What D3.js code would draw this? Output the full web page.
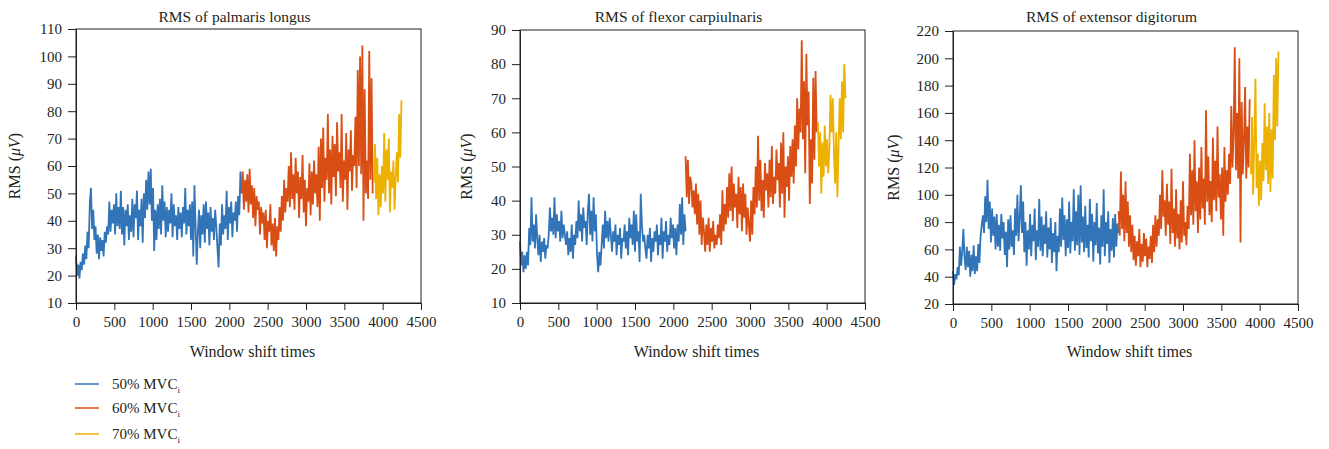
<!DOCTYPE html>
<html><head><meta charset="utf-8">
<script src="https://cdn.jsdelivr.net/npm/d3@7"></script>
<style>
body{margin:0;background:#fff;}
text{font-family:"Liberation Serif","Times New Roman",serif;fill:#231f20;}
</style></head>
<body><svg id="chart" width="1329" height="449"></svg>
<script>
// ---------- data ----------
const titles = ["RMS of palmaris longus", "RMS of flexor carpiulnaris", "RMS of extensor digitorum"];
const seriesNames = ["50% MVC", "60% MVC", "70% MVC"];
const seriesColors = ["#3274B8", "#D94E15", "#EDB100"];
const seriesStart = [0, 2160, 3885];   // window shift index of first sample
const sampleStep = 15;                 // window shifts between samples
const xTicks = [0, 500, 1000, 1500, 2000, 2500, 3000, 3500, 4000, 4500];
const yTicks1 = [10, 20, 30, 40, 50, 60, 70, 80, 90, 100, 110];
const yTicks2 = [10, 20, 30, 40, 50, 60, 70, 80, 90];
const yTicks3 = [20, 40, 60, 80, 100, 120, 140, 160, 180, 200, 220];

const p1Blue = [27,20,24,19,25,22,28,24,31,26,
36,30,46,52,37,44,33,38,28,35,
26,34,29,33,27,36,32,38,35,47,
36,44,39,46,35,50,38,45,37,51,
35,45,31,44,38,46,33,42,36,48,
34,46,41,51,33,44,38,48,32,50,
41,55,44,58,46,59,40,52,29,44,
33,46,37,48,35,53,40,47,34,45,
36,44,39,50,34,46,38,42,33,45,
37,43,34,45,39,52,35,44,38,46,
33,47,27,53,38,24,36,44,30,42,
35,46,32,47,37,43,31,45,36,41,
33,44,38,30,23,39,31,46,35,42,
37,51,33,45,39,47,34,43,40,47,
36,49,42,58,50];
const p1Orange = [50,58,44,55,47,57,43,59,46,53,
41,52,38,49,44,47,35,45,39,43,
33,44,30,40,36,46,31,39,29,41,
27,38,33,45,36,49,40,55,43,52,
47,60,45,65,48,57,44,63,50,58,
41,56,48,64,43,55,38,52,47,61,
42,58,46,62,50,57,45,67,40,70,
52,74,47,63,55,79,50,66,46,71,
56,68,49,76,58,65,52,79,47,62,
55,72,44,66,58,73,51,64,60,78,
52,95,60,100,57,104,40,88,50,62,
48,102,55,92,50];
const p1Yellow = [54,68,48,63,42,57,45,60,50,72,47,66,55,70,43,58,52,62,44,56,65,54,79,63,84];

const p2Blue = [28,21,25,19,24,20,25,21,32,27,
41,28,33,26,36,29,24,30,22,28,
25,29,23,27,26,30,38,31,35,30,
41,29,36,31,34,28,37,29,33,30,
27,31,24,29,25,33,23,30,27,34,
29,40,31,36,28,38,32,34,27,37,
42,30,37,28,41,31,36,24,19,25,
21,27,33,26,37,29,34,28,35,30,
25,31,28,33,24,30,27,32,23,29,
28,33,26,31,24,35,29,33,27,37,
25,36,28,31,22,42,33,28,30,26,
23,30,26,32,22,29,25,31,28,33,
24,30,27,35,23,31,28,34,25,30,
27,35,29,33,26,32,24,33,28,39,
30,41,27,36,31];
const p2Orange = [53,41,52,39,47,45,38,43,36,45,
33,42,30,40,27,35,31,25,33,27,
35,25,32,28,34,26,30,27,33,29,
36,27,43,31,39,33,44,35,48,37,
50,34,45,38,42,32,47,36,44,31,
45,35,42,30,38,33,28,40,30,44,
36,50,38,59,40,52,37,46,35,51,
43,48,38,52,41,56,39,47,42,55,
46,51,38,57,42,60,35,50,44,53,
40,56,47,58,45,62,50,70,55,67,
60,87,58,75,48,83,62,72,39,58,
45,76,52,78,60];
const p2Yellow = [63,50,60,42,57,47,62,50,58,48,55,71,60,70,54,45,60,41,56,70,58,75,60,80,70];

const p3Blue = [44,34,42,38,47,41,62,48,58,75,
55,45,62,47,59,40,56,44,63,42,
55,44,64,50,70,78,85,72,99,80,
111,75,95,65,90,70,84,60,86,62,
78,59,86,68,80,56,73,47,82,60,
85,62,74,56,90,70,100,66,82,107,
72,95,58,80,48,74,60,86,55,78,
66,90,52,74,62,97,59,84,55,78,
64,88,54,76,60,83,50,72,58,80,
44,70,58,90,62,98,67,85,55,82,
61,95,57,80,66,104,59,88,63,100,
56,107,65,84,58,92,61,78,54,97,
66,86,51,80,63,94,57,76,49,85,
62,104,55,80,64,88,50,75,59,83,
54,86,62,79,72];
const p3Orange = [88,70,117,75,100,66,110,72,95,62,
85,58,78,52,70,48,66,55,75,47,
64,51,72,55,68,47,62,53,70,50,
78,58,85,62,82,70,100,75,118,84,
96,70,108,78,95,64,119,72,90,62,
104,68,86,60,96,65,110,70,80,63,
92,75,130,85,118,78,140,88,110,72,
120,82,135,90,112,78,162,95,128,85,
110,80,142,96,125,88,150,98,115,82,
120,70,135,95,118,100,130,108,165,120,
145,208,118,160,112,200,65,168,115,140,
179,112,150,120,170];
const p3Yellow = [115,157,100,140,185,105,130,92,125,96,138,110,167,118,150,108,160,102,148,112,188,140,200,150,205];

// ---------- layout ----------
const panels = [
  {title: titles[0], yTicks: yTicks1, series: [p1Blue, p1Orange, p1Yellow], box: {l: 76, r: 421, t: 29, b: 303}, yLabelX: 15},
  {title: titles[1], yTicks: yTicks2, series: [p2Blue, p2Orange, p2Yellow], box: {l: 520, r: 865, t: 30, b: 303}, yLabelX: 467},
  {title: titles[2], yTicks: yTicks3, series: [p3Blue, p3Orange, p3Yellow], box: {l: 953, r: 1298, t: 31, b: 304}, yLabelX: 894}
];

const svg = d3.select("#chart");

panels.forEach(p => {
  const b = p.box;
  const x = d3.scaleLinear().domain([xTicks[0], xTicks[xTicks.length - 1]]).range([b.l, b.r]);
  const y = d3.scaleLinear().domain([p.yTicks[0], p.yTicks[p.yTicks.length - 1]]).range([b.b, b.t]);
  const g = svg.append("g");

  // series lines
  const line = d3.line().x(d => x(d.x)).y(d => y(d.v));
  p.series.forEach((vals, si) => {
    const pts = vals.map((v, i) => ({x: seriesStart[si] + i * sampleStep, v: v}));
    g.append("path").datum(pts)
      .attr("fill", "none")
      .attr("stroke", seriesColors[si])
      .attr("stroke-width", 1.8)
      .attr("stroke-linejoin", "miter")
      .attr("d", line);
  });

  // box
  g.append("rect").attr("x", b.l).attr("y", b.t).attr("width", b.r - b.l).attr("height", b.b - b.t)
    .attr("fill", "none").attr("stroke", "#231f20").attr("stroke-width", 1);

  // axes
  const xAxis = g.append("g").attr("transform", `translate(0,${b.b})`)
    .call(d3.axisBottom(x).tickValues(xTicks).tickSize(7).tickSizeOuter(0).tickPadding(6).tickFormat(d3.format("d")));
  const yAxis = g.append("g").attr("transform", `translate(${b.l},0)`)
    .call(d3.axisLeft(y).tickValues(p.yTicks).tickSize(8).tickSizeOuter(0).tickPadding(6).tickFormat(d3.format("d")));
  [xAxis, yAxis].forEach(a => {
    a.select(".domain").attr("stroke", "#231f20");
    a.selectAll(".tick line").attr("stroke", "#231f20");
    a.selectAll(".tick text").style("font-family", "'Liberation Serif', serif").style("font-size", "15px").attr("fill", "#231f20");
  });

  // title
  const cx = (b.l + b.r) / 2;
  g.append("text").attr("x", cx - 14).attr("y", 22).attr("text-anchor", "middle")
    .style("font-size", "15.5px").text(p.title);
  // x label
  g.append("text").attr("x", cx + 4).attr("y", 357).attr("text-anchor", "middle")
    .style("font-size", "16px").text("Window shift times");
  // y label
  const yl = g.append("text").attr("transform", `translate(${p.yLabelX + 5},${(b.t + b.b) / 2}) rotate(-90)`)
    .attr("text-anchor", "middle").style("font-size", "16px");
  yl.append("tspan").text("RMS (");
  yl.append("tspan").style("font-style", "italic").text("μV");
  yl.append("tspan").text(")");
});

// legend
const legendY = [384, 408, 434];
const lg = svg.append("g");
seriesNames.forEach((name, i) => {
  lg.append("line").attr("x1", 75).attr("x2", 99).attr("y1", legendY[i]).attr("y2", legendY[i])
    .attr("stroke", seriesColors[i]).attr("stroke-width", 1.5);
  const t = lg.append("text").attr("x", 112).attr("y", legendY[i] + 5).style("font-size", "15px");
  t.append("tspan").text(name);
  t.append("tspan").attr("dy", 4).style("font-size", "9px").text("i");
});
</script></body></html>
